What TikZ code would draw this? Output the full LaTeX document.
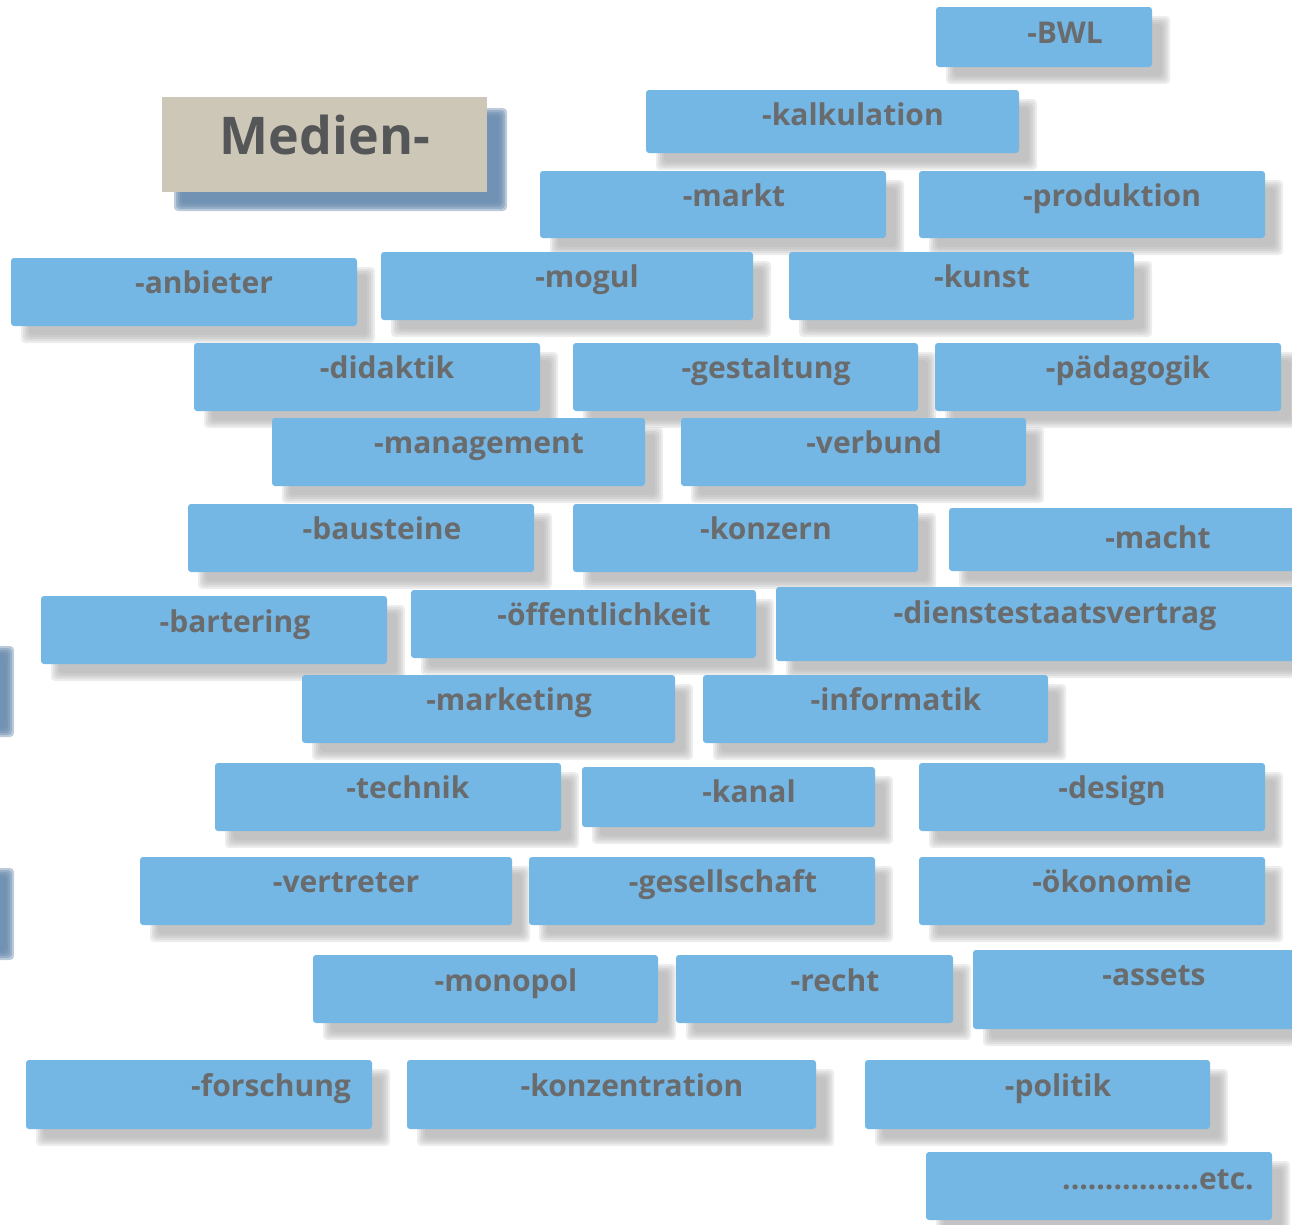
\documentclass[tikz,border=0pt]{standalone}
\usepackage{fontspec}
\setmainfont{Open Sans}
\usetikzlibrary{fit}
\definecolor{boxblue}{HTML}{74B7E4}
\definecolor{labgray}{HTML}{6A6B6D}
\definecolor{mbeige}{HTML}{CDC7B8}
\definecolor{mshadow}{HTML}{6A8CAF}
\definecolor{mtext}{HTML}{555658}
\pgfdeclarelayer{shadow}
\pgfsetlayers{shadow,main}
\tikzset{
  wbox/.style={fill=boxblue, rounded corners=3pt, inner sep=0pt, draw=none},
  mbox/.style={fill=mbeige, inner sep=0pt, draw=none},
  lbl/.style={text=labgray, font=\fontsize{30}{36}\selectfont\bfseries, anchor=mid, inner sep=0pt, yshift=-4pt},
  mlbl/.style={text=mtext, font=\fontsize{52}{60}\selectfont\bfseries, anchor=mid, inner sep=0pt, yshift=-11pt}
}
\newcommand\softshadow[6]{%
  \foreach \k in {-4,-2,0,2,4}{%
    \fill[#1, opacity=#6, rounded corners=4pt] ({#2-(\k)},{#3-(\k)}) rectangle ({#4+(\k)},{#5+(\k)});}%
}
\newcommand\wordbox[8]{%
  \begin{pgfonlayer}{shadow}\softshadow{black!35}{#2+14}{#3+13}{#4+14}{#5+13}{0.2}\end{pgfonlayer}
  \node[wbox, fit={(#2,#3) (#4,#5)}] (#1) {};
  \node[lbl] (#1-t) at (#6,#7) {#8};
}
\begin{document}
\begin{tikzpicture}[x=1pt,y=-1pt]
\useasboundingbox (0,0) rectangle (1292,1224);
% left blurred bars
\softshadow{mshadow}{-10}{650}{10}{733}{0.45}
\softshadow{mshadow}{-10}{872}{10}{956}{0.45}
% Medien box
\begin{pgfonlayer}{shadow}\softshadow{mshadow}{178}{112}{503}{207}{0.45}\end{pgfonlayer}
\node[mbox, fit={(162,97) (487,192)}] (medien) {};
\node[mlbl] (medien-t) at (325,141) {Medien-};
\wordbox{bwl}{936}{7}{1152}{67}{1065}{37}{-BWL}
\wordbox{kalk}{646}{90}{1019}{153}{853}{119}{-kalkulation}
\wordbox{markt}{540}{171}{886}{238}{734}{200}{-markt}
\wordbox{prod}{919}{171}{1265}{238}{1112}{200}{-produktion}
\wordbox{anb}{11}{258}{357}{326}{204}{287}{-anbieter}
\wordbox{mogul}{381}{252}{753}{320}{587}{281}{-mogul}
\wordbox{kunst}{789}{252}{1134}{320}{982}{281}{-kunst}
\wordbox{did}{194}{343}{540}{411}{387}{372}{-didaktik}
\wordbox{gest}{573}{343}{918}{411}{766}{372}{-gestaltung}
\wordbox{paed}{935}{343}{1281}{411}{1128}{372}{-pädagogik}
\wordbox{man}{272}{418}{645}{486}{479}{447}{-management}
\wordbox{verb}{681}{418}{1026}{486}{874}{447}{-verbund}
\wordbox{baus}{188}{504}{534}{572}{382}{533}{-bausteine}
\wordbox{konz}{573}{504}{918}{572}{766}{533}{-konzern}
\wordbox{macht}{949}{508}{1300}{571}{1158}{542}{-macht}
\wordbox{bart}{41}{596}{387}{664}{235}{626}{-bartering}
\wordbox{oeff}{411}{590}{756}{658}{604}{619}{-öffentlichkeit}
\wordbox{dienst}{776}{587}{1300}{661}{1055}{617}{-dienstestaatsvertrag}
\wordbox{mark}{302}{675}{675}{743}{509}{704}{-marketing}
\wordbox{info}{703}{675}{1048}{743}{896}{704}{-informatik}
\wordbox{tech}{215}{763}{561}{831}{408}{792}{-technik}
\wordbox{kanal}{582}{767}{875}{827}{749}{796}{-kanal}
\wordbox{design}{919}{763}{1265}{831}{1112}{792}{-design}
\wordbox{vertr}{140}{857}{512}{925}{346}{886}{-vertreter}
\wordbox{ges}{529}{857}{875}{925}{723}{886}{-gesellschaft}
\wordbox{oek}{919}{857}{1265}{925}{1112}{886}{-ökonomie}
\wordbox{mono}{313}{955}{658}{1023}{506}{985}{-monopol}
\wordbox{recht}{676}{955}{953}{1023}{835}{985}{-recht}
\wordbox{assets}{973}{950}{1300}{1029}{1154}{979}{-assets}
\wordbox{forsch}{26}{1060}{372}{1129}{271}{1090}{-forschung}
\wordbox{konzen}{407}{1060}{816}{1129}{632}{1090}{-konzentration}
\wordbox{pol}{865}{1060}{1210}{1129}{1058}{1090}{-politik}
\wordbox{etc}{926}{1152}{1272}{1220}{1158}{1183}{................etc.}
\end{tikzpicture}
\end{document}
